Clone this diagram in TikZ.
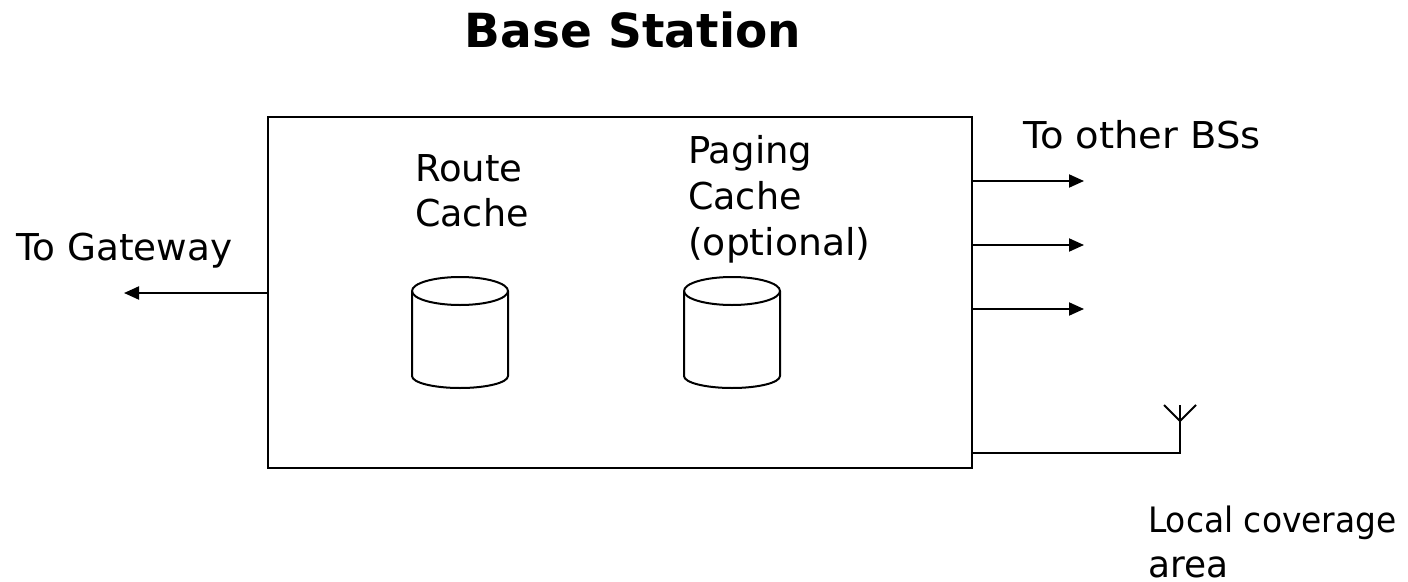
\documentclass[tikz,border=0pt]{standalone}
\usepackage{fontspec}
\usepackage{graphicx}
\setmainfont{DejaVu Sans}
\usetikzlibrary{arrows.meta}
\newcommand\sx[2]{\scalebox{#1}[1]{#2}}
\begin{document}
\begin{tikzpicture}[x=1pt,y=-1pt,
 lbl/.style={inner sep=0pt,anchor=base west,align=left,font=\fontsize{37}{39}\selectfont},
 arr/.style={line width=2pt,-{Triangle[length=15pt,width=13pt]}},
 ln/.style={line width=2pt}]
\useasboundingbox (0,0) rectangle (1408,581);
\node[inner sep=0pt,anchor=base,font=\bfseries\fontsize{47}{54}\selectfont] (title) at (633,47) {Base Station};
\node[draw,line width=2pt,outer sep=0pt,minimum width=704pt,minimum height=351pt,inner sep=0pt,anchor=north west] (bs) at (268,117) {};
\node[lbl] (rc) at (415,181) {Route};
\node[lbl] (rc2) at (415,226) {\sx{.985}{Cache}};
\node[lbl] (pc) at (688,163) {Paging};
\node[lbl] (pc2) at (688,209) {\sx{.985}{Cache}};
\node[lbl] (pc3) at (688,255) {\sx{1.02}{(optional)}};
\node[lbl] (gw) at (16,260) {\sx{1.01}{To Gateway}};
\node[lbl] (other) at (1023,148) {\sx{1.04}{To other BSs}};
\node[lbl,font=\fontsize{35}{39}\selectfont] (cov) at (1148,532) {\sx{.94}{Local coverage}};
\node[lbl] (cov2) at (1148,577) {\sx{.97}{area}};
\foreach \n/\x in {a/412,b/684}{
 \draw[ln] (\x,291) arc[start angle=180,end angle=-180,x radius=48,y radius=14];
 \draw[ln] (\x,291) -- (\x,376) arc[start angle=180,end angle=0,x radius=48,y radius=12] -- (\x+96,291);
}
\coordinate (g) at (124,293);
\draw[arr] (268,293) -- (g);
\foreach \n/\y in {p/181,q/245,r/309}{
 \coordinate (\n) at (1084,\y);
 \draw[arr] (972,\y) -- (\n);
}
\coordinate (s) at (1180,453);
\coordinate (t) at (1180,421);
\coordinate (u) at (1164,405);
\coordinate (v) at (1196,405);
\draw[ln] (972,453) -- (s) -- (1180,405);
\draw[ln] (u) -- (t) -- (v);
\end{tikzpicture}
\end{document}
